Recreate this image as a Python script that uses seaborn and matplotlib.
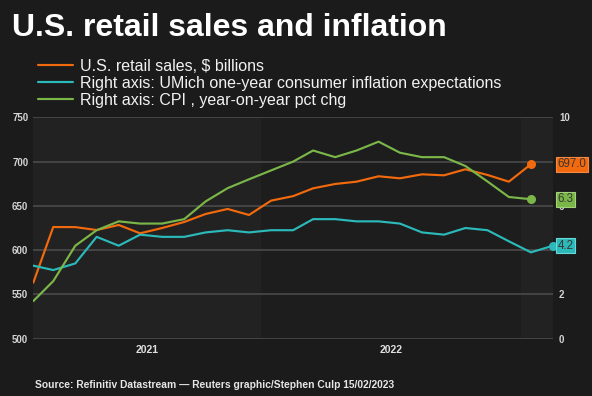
import matplotlib
matplotlib.use("Agg")
import matplotlib.pyplot as plt
from matplotlib import transforms
import pandas as pd
import seaborn as sns

# Monthly observations, Feb 2021 onwards (plotted mid-month)
months = pd.date_range("2021-02-15", periods=25, freq=pd.DateOffset(months=1))

# U.S. retail sales, $ billions (Feb 2021 - Jan 2023)
retail_sales = [563.3, 626.1, 626.0, 622.7, 628.4, 619.0, 625.0, 631.8,
                640.8, 646.5, 639.7, 655.9, 661.0, 669.8, 674.7, 677.3,
                683.4, 681.1, 685.6, 684.5, 691.3, 684.9, 677.3, 697.0]

# CPI, year-on-year pct change (Feb 2021 - Jan 2023)
cpi_yoy = [1.7, 2.6, 4.2, 4.9, 5.3, 5.2, 5.2, 5.4, 6.2, 6.8, 7.2, 7.6,
           8.0, 8.5, 8.2, 8.5, 8.9, 8.4, 8.2, 8.2, 7.8, 7.1, 6.4, 6.3]

# UMich one-year consumer inflation expectations (Feb 2021 - Feb 2023)
umich_expect = [3.3, 3.1, 3.4, 4.6, 4.2, 4.7, 4.6, 4.6, 4.8, 4.9, 4.8, 4.9,
                4.9, 5.4, 5.4, 5.3, 5.3, 5.2, 4.8, 4.7, 5.0, 4.9, 4.4, 3.9, 4.2]

left_ticks = [500, 550, 600, 650, 700, 750]
right_ticks = [0, 2, 4, 6, 8, 10]
year_labels = ["2021", "2022"]

series_labels = [
    "U.S. retail sales, $ billions",
    "Right axis: UMich one-year consumer inflation expectations",
    "Right axis: CPI , year-on-year pct chg",
]

BG = "#1b1b1b"
PLOT_BG = "#1d1d1d"
BAND = "#222222"
GRID = "#474747"
ORANGE = "#f26a0d"
CYAN = "#2bb9b9"
GREEN = "#7ab648"
TICK = "#d4d4d4"
LW = 1.55

sns.set_theme(style="dark")
plt.rcParams["font.family"] = ["Liberation Sans", "DejaVu Sans"]

fig = plt.figure(figsize=(5.92, 3.96), dpi=100, facecolor=BG)
W, H = 592, 396
x0, x1, ytop, ybot = 33.3, 553.0, 117.3, 338.7
ax = fig.add_axes([x0 / W, 1 - ybot / H, (x1 - x0) / W, (ybot - ytop) / H])
ax.set_facecolor(PLOT_BG)
ax2 = ax.twinx()
ax2.patch.set_visible(False)

n = len(retail_sales)
x_main = months[:n]

# alternating year shading
jan22 = pd.Timestamp("2022-01-01")
jan23 = pd.Timestamp("2023-01-01")
ax.axvspan(months[0], jan22, color=BAND, lw=0, zorder=0)
ax.axvspan(jan23, months[-1], color=BAND, lw=0, zorder=0)

sns.lineplot(x=x_main, y=retail_sales, ax=ax, color=ORANGE, lw=LW, legend=False)
sns.lineplot(x=months, y=umich_expect, ax=ax2, color=CYAN, lw=LW, legend=False)
sns.lineplot(x=x_main, y=cpi_yoy, ax=ax2, color=GREEN, lw=LW, legend=False)

# end-point markers
ax.plot([x_main[-1]], [retail_sales[-1]], "o", color=ORANGE, ms=5.5, clip_on=False, zorder=4)
ax2.plot([x_main[-1]], [cpi_yoy[-1]], "o", color=GREEN, ms=5.5, clip_on=False, zorder=4)
ax2.plot([months[-1]], [umich_expect[-1]], "o", color=CYAN, ms=5.5, clip_on=False, zorder=4)

ax.set_xlim(months[0], months[-1])
ax.set_ylim(500, 750)
ax2.set_ylim(0, 10)
ax.set_yticks(left_ticks)
ax2.set_yticks(right_ticks)
ax.set_axisbelow(True)
ax.grid(axis="y", color=GRID, lw=1.3)
ax.grid(axis="x", visible=False)
ax2.grid(False)

# year labels centred on the visible part of each year
mid21 = months[0] + (jan22 - months[0]) / 2
mid22 = jan22 + (jan23 - jan22) / 2
ax.set_xticks([mid21, mid22])
ax.set_xticklabels(year_labels)
ax.set_xlabel("")
ax.set_ylabel("")
ax2.set_ylabel("")

ax.tick_params(axis="y", length=0, pad=3.6, labelsize=7, labelcolor=TICK)
ax.tick_params(axis="x", length=0, pad=4.5, labelsize=7.5, labelcolor="#e0e0e0")
ax2.tick_params(axis="y", length=0, pad=4.3, labelsize=7, labelcolor=TICK)
for lbl in ax.get_yticklabels() + ax.get_xticklabels() + ax2.get_yticklabels():
    lbl.set_fontweight("bold")

for a in (ax, ax2):
    for s in a.spines.values():
        s.set_visible(False)

# value tags at the right edge, drawn over the right-axis labels
tag_x = 1.009
tags = [
    (ax.transData, retail_sales[-1], f"{retail_sales[-1]:.1f}", ORANGE, "#f58a45"),
    (ax2.transData, cpi_yoy[-1], f"{cpi_yoy[-1]:.1f}", GREEN, "#a2d27a"),
    (ax2.transData, umich_expect[-1], f"{umich_expect[-1]:.1f}", CYAN, "#6ad8d8"),
]
for ytrans, val, txt, fc, ec in tags:
    tr = transforms.blended_transform_factory(ax2.transAxes, ytrans)
    ax2.text(tag_x, val, txt, transform=tr, ha="left", va="center",
             fontsize=8.3, color="#3a3530", zorder=6, clip_on=False,
             bbox=dict(boxstyle="square,pad=0.14", fc=fc, ec=ec, lw=0.8))

# legend
handles = [ax.lines[0], ax2.lines[0], ax2.lines[1]]
fig.legend(handles, series_labels, loc="upper left",
           bbox_to_anchor=(38 / W, 1 - 59 / H), frameon=False,
           fontsize=11.5, handlelength=2.2, handletextpad=0.45,
           labelspacing=0.125, borderaxespad=0, borderpad=0,
           labelcolor="#f2f2f2")

fig.text(12 / W, 1 - 36 / H, "U.S. retail sales and inflation", fontsize=23,
         fontweight="bold", color="white", va="baseline")
fig.text(35 / W, 1 - 388 / H,
         "Source: Refinitiv Datastream \u2014 Reuters graphic/Stephen Culp 15/02/2023",
         fontsize=7.4, fontweight="bold", color="#e6e6e6", va="baseline")

fig.savefig("out.png", dpi=100, facecolor=BG)
